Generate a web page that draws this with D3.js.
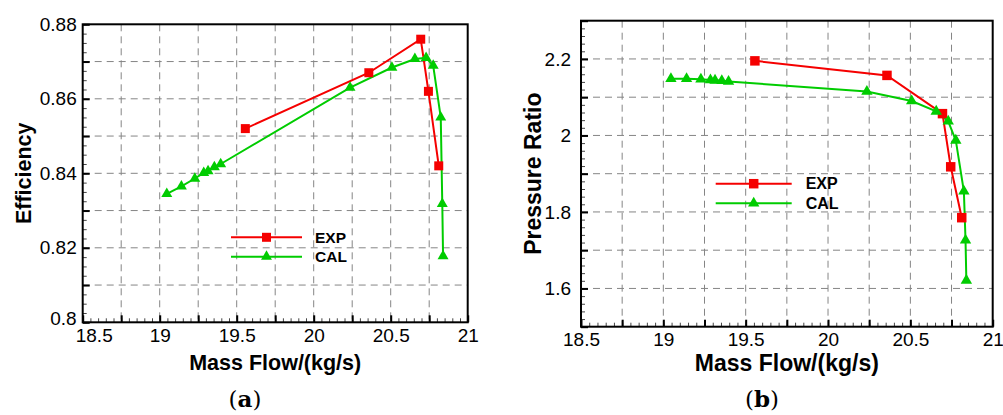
<!DOCTYPE html>
<html>
<head>
<meta charset="utf-8">
<script src="https://cdn.jsdelivr.net/npm/d3@7"></script>
<style>
  html, body { margin: 0; padding: 0; background: #fff; }
  svg { display: block; }
  text { font-family: "Liberation Sans", Arial, sans-serif; fill: #000; }
</style>
</head>
<body>
<svg id="chart" width="1003" height="415"></svg>
<script>
// Compressor performance: measured (EXP) vs computed (CAL) operating points
const expMass = [19.556, 20.358, 20.695, 20.745, 20.812];
const expEff  = [0.852, 0.867, 0.876, 0.862, 0.842];
const expPR   = [2.195, 2.157, 2.057, 1.918, 1.785];

const calMass = [19.046, 19.141, 19.228, 19.286, 19.314, 19.355, 19.396,
                 20.236, 20.508, 20.657, 20.730, 20.776, 20.825, 20.835, 20.840];
const calEff  = [0.8345, 0.8365, 0.8386, 0.8401, 0.8406, 0.8417, 0.8425,
                 0.8630, 0.8684, 0.8707, 0.8710, 0.8689, 0.8550, 0.8318, 0.8178];
const calPR   = [2.148, 2.148, 2.147, 2.145, 2.144, 2.143, 2.141,
                 2.115, 2.090, 2.063, 2.037, 1.987, 1.854, 1.726, 1.621];

const massTicks = [18.5, 19, 19.5, 20, 20.5, 21];
const effTicks  = [0.8, 0.82, 0.84, 0.86, 0.88];
const prTicks   = [1.6, 1.8, 2, 2.2];

const seriesNames = ["EXP", "CAL"];
const RED = "#f50000", GREEN = "#00cc00";

const svg = d3.select("#chart");

function range(a, b, step) {
  const out = [];
  const n = Math.round((b - a) / step);
  for (let i = 0; i <= n; i++) out.push(+(a + i * step).toFixed(6));
  return out;
}

function panel(opt) {
  const x = d3.scaleLinear().domain([18.5, 21]).range([opt.left, opt.right]);
  const y = d3.scaleLinear().domain(opt.yDomain).range([opt.bottom, opt.top]);
  const g = svg.append("g");

  // dashed grid
  const grid = g.append("g").attr("stroke", "#858585").attr("stroke-width", 1)
    .attr("stroke-dasharray", "7,5");
  range(18.5, 21, 0.25).slice(1, -1).forEach(v => {
    grid.append("line").attr("x1", x(v)).attr("x2", x(v))
      .attr("y1", opt.top).attr("y2", opt.bottom);
  });
  range(opt.yDomain[0], opt.yDomain[1], opt.yGridStep).slice(1, -1).forEach(v => {
    grid.append("line").attr("x1", opt.left).attr("x2", opt.right)
      .attr("y1", y(v)).attr("y2", y(v));
  });

  // inward ticks along bottom and left edges
  const xMajor = d3.axisBottom(x).tickValues(range(18.5, 21, 0.25)).tickSizeInner(-7)
    .tickSizeOuter(0).tickFormat("");
  const xMinor = d3.axisBottom(x).tickValues(range(18.5, 21, 0.05)).tickSizeInner(-4)
    .tickSizeOuter(0).tickFormat("");
  const yMajor = d3.axisLeft(y).tickValues(range(opt.yDomain[0], opt.yDomain[1], opt.yGridStep))
    .tickSizeInner(-7).tickSizeOuter(0).tickFormat("");
  const yMinor = d3.axisLeft(y).tickValues(range(opt.yDomain[0], opt.yDomain[1], opt.yMinorStep))
    .tickSizeInner(-4).tickSizeOuter(0).tickFormat("");

  [[xMinor, 1, "#444"], [xMajor, 2, "#000"]].forEach(([ax, w, c]) => {
    const a = g.append("g").attr("transform", `translate(0,${opt.bottom})`).call(ax);
    a.select(".domain").remove();
    a.selectAll("line").attr("stroke", c).attr("stroke-width", w);
  });
  [[yMinor, 1, "#444"], [yMajor, 2, "#000"]].forEach(([ax, w, c]) => {
    const a = g.append("g").attr("transform", `translate(${opt.left},0)`).call(ax);
    a.select(".domain").remove();
    a.selectAll("line").attr("stroke", c).attr("stroke-width", w);
  });

  // tick labels
  const xl = d3.axisBottom(x).tickValues(massTicks).tickSize(0).tickPadding(opt.xPad)
    .tickFormat(d3.format("~g"));
  const xa = g.append("g").attr("transform", `translate(0,${opt.bottom})`).call(xl);
  xa.select(".domain").remove();
  xa.selectAll("text").style("font-size", opt.tickFont + "px").attr("fill", "#000")
    .style("font-family", '"Liberation Sans", Arial, sans-serif');
  // the first mass-flow label is nudged clear of the corner
  xa.selectAll("text").filter(d => d === massTicks[0]).attr("dx", opt.firstXShift);

  const yl = d3.axisLeft(y).tickValues(opt.yTicks).tickSize(0).tickPadding(opt.yPad)
    .tickFormat(d3.format("~g"));
  const ya = g.append("g").attr("transform", `translate(${opt.left},0)`).call(yl);
  ya.select(".domain").remove();
  ya.selectAll("text").style("font-size", opt.tickFont + "px").attr("fill", "#000")
    .style("font-family", '"Liberation Sans", Arial, sans-serif');
  ya.selectAll("text").filter(d => d === opt.yDomain[0])
    .attr("transform", `translate(0,${opt.firstYShift})`);

  // frame
  g.append("rect").attr("x", opt.left).attr("y", opt.top)
    .attr("width", opt.right - opt.left).attr("height", opt.bottom - opt.top)
    .attr("fill", "none").attr("stroke", "#000").attr("stroke-width", 2);

  // series
  const line = d3.line().x(d => x(d[0])).y(d => y(d[1]));
  const exp = d3.zip(expMass, opt.expY);
  const cal = d3.zip(calMass, opt.calY);
  const sq = d3.symbol().type(d3.symbolSquare).size(opt.sqSize);
  const tri = d3.symbol().type(d3.symbolTriangle).size(opt.triSize);

  g.append("path").datum(exp).attr("d", line).attr("fill", "none")
    .attr("stroke", RED).attr("stroke-width", 2);
  g.append("path").datum(cal).attr("d", line).attr("fill", "none")
    .attr("stroke", GREEN).attr("stroke-width", 2);
  g.selectAll(null).data(exp).join("path").attr("d", sq)
    .attr("transform", d => `translate(${x(d[0])},${y(d[1])})`).attr("fill", RED);
  g.selectAll(null).data(cal).join("path").attr("d", tri)
    .attr("transform", d => `translate(${x(d[0])},${y(d[1])})`).attr("fill", GREEN);

  // legend
  const lg = g.append("g");
  seriesNames.forEach((name, i) => {
    const ly = opt.legY + i * opt.legGap;
    const col = i === 0 ? RED : GREEN;
    lg.append("line").attr("x1", opt.legX).attr("x2", opt.legX + opt.legLen)
      .attr("y1", ly).attr("y2", ly).attr("stroke", col).attr("stroke-width", 2);
    lg.append("path").attr("d", i === 0 ? sq : tri)
      .attr("transform", `translate(${opt.legX + opt.legLen / 2},${ly})`).attr("fill", col);
    lg.append("text").attr("x", opt.legX + opt.legLen + opt.legTextGap).attr("y", ly)
      .attr("dy", "0.36em").style("font-size", opt.legFont + "px")
      .style("font-weight", "bold").text(name);
  });

  // axis titles
  g.append("text").attr("x", (opt.left + opt.right) / 2).attr("y", opt.xTitleY)
    .attr("text-anchor", "middle").style("font-size", opt.titleFont + "px")
    .style("font-weight", "bold").text("Mass Flow/(kg/s)");
  g.append("text").attr("transform", `translate(${opt.yTitleX},${(opt.top + opt.bottom) / 2}) rotate(-90)`)
    .attr("text-anchor", "middle").style("font-size", opt.titleFont + "px")
    .style("font-weight", "bold").text(opt.yTitle);

  // panel caption
  const cap = g.append("text").attr("x", opt.capX).attr("y", 407)
    .attr("text-anchor", "middle").style("font-family", '"DejaVu Serif", "Liberation Serif", serif')
    .style("font-size", "23px");
  cap.append("tspan").text("(");
  cap.append("tspan").style("font-weight", "bold").text(opt.caption);
  cap.append("tspan").text(")");
}

panel({
  left: 82.7, right: 467.7, top: 24.3, bottom: 322.3,
  yDomain: [0.8, 0.88], yGridStep: 0.01, yMinorStep: 0.0025, yTicks: effTicks,
  expY: expEff, calY: calEff,
  tickFont: 19, xPad: 6, yPad: 6, titleFont: 21.5,
  firstXShift: 11, firstYShift: -4,
  xTitleY: 370, yTitleX: 31, yTitle: "Efficiency",
  sqSize: 81, triSize: 52,
  legX: 231, legY: 237.3, legGap: 19.4, legLen: 71, legTextGap: 13, legFont: 15.5,
  capX: 245, caption: "a"
});

panel({
  left: 581, right: 992.7, top: 20.7, bottom: 326.7,
  yDomain: [1.5, 2.3], yGridStep: 0.1, yMinorStep: 0.02, yTicks: prTicks,
  expY: expPR, calY: calPR,
  tickFont: 19, xPad: 6, yPad: 10, titleFont: 23,
  firstXShift: 0, firstYShift: 0,
  xTitleY: 371, yTitleX: 541, yTitle: "Pressure Ratio",
  sqSize: 90, triSize: 56,
  legX: 715.7, legY: 183.7, legGap: 19.6, legLen: 76, legTextGap: 14, legFont: 16,
  capX: 762, caption: "b"
});
</script>
</body>
</html>
